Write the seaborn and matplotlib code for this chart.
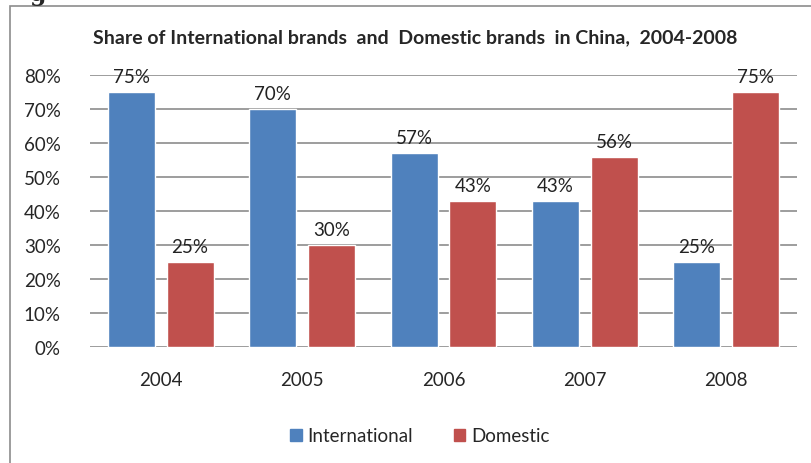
import matplotlib.pyplot as plt
import matplotlib.patches as mpatches
import seaborn as sns
import pandas as pd

years = ["2004", "2005", "2006", "2007", "2008"]
international = [75, 70, 57, 43, 25]
domestic = [25, 30, 43, 56, 75]
series_names = ["International", "Domestic"]
colors = ["#4F81BD", "#C0504D"]
y_ticks = [0, 10, 20, 30, 40, 50, 60, 70, 80]

df = pd.DataFrame({
    "year": years * 2,
    "share": international + domestic,
    "brand": [series_names[0]] * len(years) + [series_names[1]] * len(years),
})

sns.set_theme(style="white")
plt.rcParams["font.family"] = ["Lato", "DejaVu Sans"]

fig = plt.figure(figsize=(8.12, 4.64), dpi=100)
ax = fig.add_axes([90 / 812, 1 - 348 / 464, 707 / 812, 272 / 464])

sns.barplot(data=df, x="year", y="share", hue="brand", palette=colors,
            width=0.83, gap=0.2, saturation=1, ax=ax, legend=False)

for container in ax.containers:
    ax.bar_label(container, labels=[f"{v:.0f}%" for v in container.datavalues],
                 padding=5, fontsize=13.5, color="#222222")

ax.set_ylim(0, 80)
ax.set_yticks(y_ticks)
ax.set_yticklabels([f"{t}%" for t in y_ticks], fontsize=13.5)
ax.tick_params(axis="x", labelsize=13.5, pad=17, length=0)
ax.tick_params(axis="y", pad=21, length=0)
ax.set_xlabel("")
ax.set_ylabel("")
ax.set_xlim(-0.5, 4.5)
ax.yaxis.grid(True, color="#8C8C8C", linewidth=1.2)
ax.set_axisbelow(True)
for s in ax.spines.values():
    s.set_visible(False)

fig.text(415 / 812, 1 - 38 / 464, "Share of International brands  and  Domestic brands  in China,  2004-2008",
         ha="center", va="center", fontsize=14, fontweight="bold")

handles = [mpatches.Patch(color=c, label=n) for c, n in zip(colors, series_names)]
fig.legend(handles=handles, loc="center", bbox_to_anchor=(420 / 812, 1 - 437 / 464),
           ncol=2, frameon=False, fontsize=13.5, handlelength=0.6, handleheight=0.6,
           handletextpad=0.3, columnspacing=2.2)

# chart border (cropped on the right and bottom)
border = mpatches.Rectangle((10 / 812, -0.05), 1.0, 1 - 7 / 464 + 0.05,
                            transform=fig.transFigure, fill=False,
                            edgecolor="#8C8C8C", linewidth=1.2)
fig.patches.append(border)

# fragment of a caption cropped off above the chart
fig.text(30 / 812, 1 - 1 / 464, "g", ha="left", va="baseline",
         fontsize=17, fontweight="bold", family="DejaVu Serif")

fig.savefig("out.png", dpi=100)
